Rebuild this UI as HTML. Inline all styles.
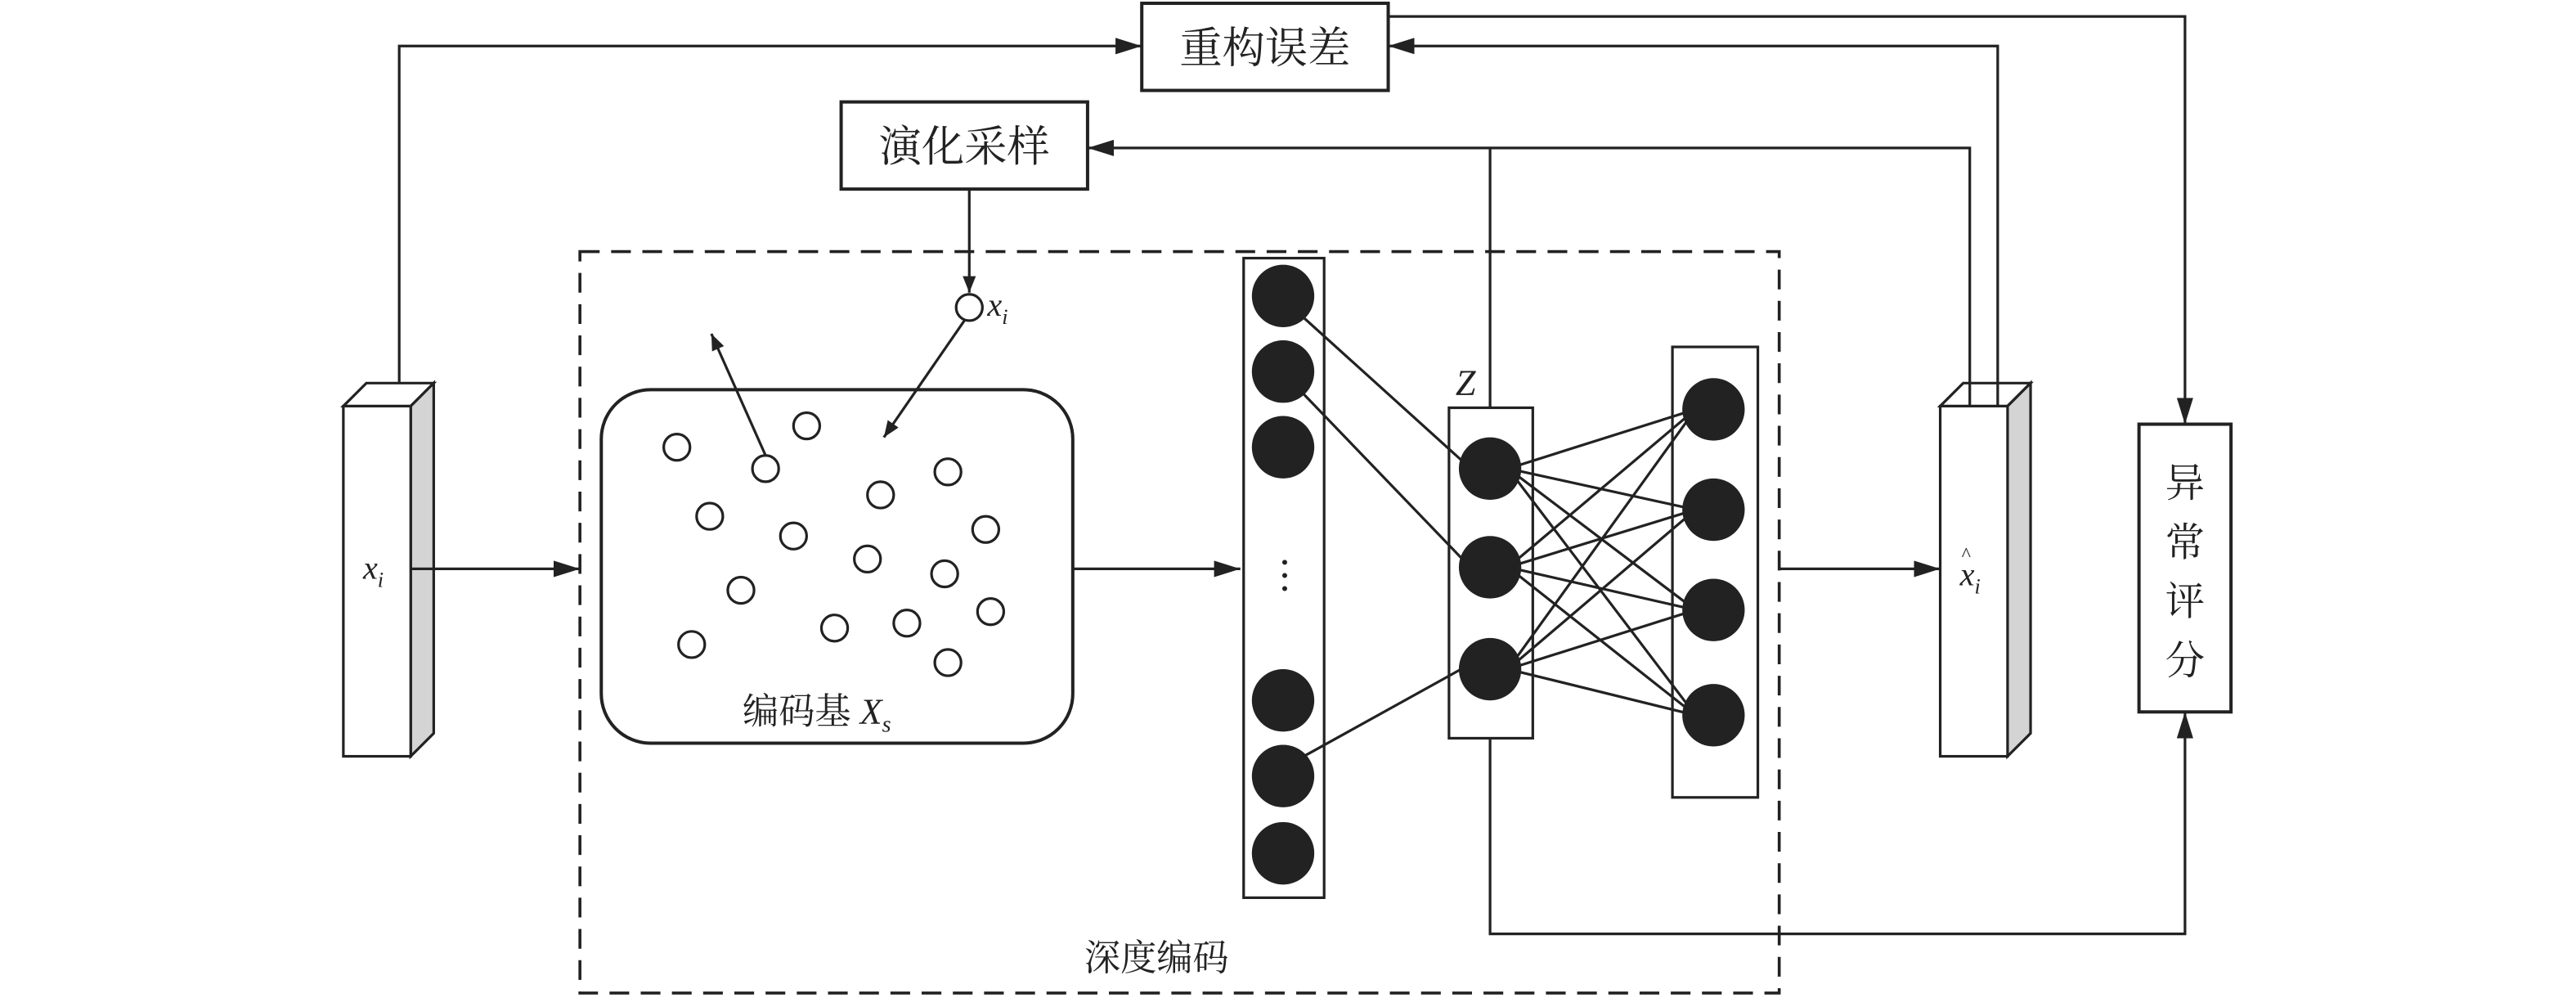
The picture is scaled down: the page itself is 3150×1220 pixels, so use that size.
<!DOCTYPE html>
<html><head><meta charset="utf-8"><style>html,body{margin:0;padding:0;background:#fff}svg{display:block}</style></head>
<body>
<svg width="3150" height="1220" viewBox="0 0 1568 607" preserveAspectRatio="none" xmlns="http://www.w3.org/2000/svg">
<defs><marker id="a" markerWidth="10" markerHeight="8" refX="10" refY="4" orient="auto" markerUnits="userSpaceOnUse"><path d="M0,0L10,4L0,8z" fill="#222"/></marker>
<marker id="b" markerWidth="16" markerHeight="10" refX="16" refY="5" orient="auto" markerUnits="userSpaceOnUse"><path d="M0,0L16,5L0,10z" fill="#222"/></marker></defs>
<g fill="none" stroke="#222" stroke-width="1.6">
<rect x="695" y="2" width="150" height="53" stroke-width="2"/>
<rect x="512" y="62" width="150" height="53" stroke-width="2"/>
<rect x="353" y="153" width="730" height="451" stroke-dasharray="12,7" stroke-width="1.8"/>
<!-- left cuboid -->
<path d="M209,247L223,233L264,233L250,247Z" fill="#fff"/>
<path d="M250,247L264,233L264,446L250,460Z" fill="#d4d4d4"/>
<rect x="209" y="247" width="41" height="213" fill="#fff"/>
<path d="M243,233V28H695" marker-end="url(#b)"/>
<path d="M250,346H353" marker-end="url(#b)"/>
<rect x="366" y="237" width="287" height="215" rx="30" stroke-width="2"/>
<g stroke-width="1.6" fill="#fff">
<circle cx="412" cy="272" r="8"/><circle cx="491" cy="259" r="8"/><circle cx="466" cy="285" r="8"/><circle cx="577" cy="287" r="8"/><circle cx="432" cy="314" r="8"/><circle cx="536" cy="301" r="8"/><circle cx="483" cy="326" r="8"/><circle cx="600" cy="322" r="8"/><circle cx="528" cy="340" r="8"/><circle cx="575" cy="349" r="8"/><circle cx="451" cy="359" r="8"/><circle cx="421" cy="392" r="8"/><circle cx="508" cy="382" r="8"/><circle cx="552" cy="379" r="8"/><circle cx="603" cy="372" r="8"/><circle cx="577" cy="403" r="8"/>
<circle cx="590" cy="187" r="8"/></g>
<path d="M466,277L433,203" marker-end="url(#a)"/>
<path d="M590,115V178" marker-end="url(#a)"/>
<path d="M587,195L538,266" marker-end="url(#a)"/>
<path d="M653,346H755" marker-end="url(#b)"/>
<rect x="757" y="157" width="49" height="389"/>
<rect x="882" y="248" width="51" height="201"/>
<rect x="1018" y="211" width="52" height="274"/>
<path d="M790,190L893,283M790,236L893,343M790,462L893,405"/>
<path d="M918,285L1032,249M918,285L1032,310M918,285L1032,371M918,285L1032,435M918,345L1032,249M918,345L1032,310M918,345L1032,371M918,345L1032,435M918,407L1032,249M918,407L1032,310M918,407L1032,371M918,407L1032,435"/>
<path d="M907,248V90"/>
<path d="M1199,233V90H662" marker-end="url(#b)"/>
<path d="M1216,233V28H845" marker-end="url(#b)"/>
<path d="M845,10H1330V258" marker-end="url(#b)"/>
<path d="M907,449V568H1330V433" marker-end="url(#b)"/>
<path d="M1083,346H1181" marker-end="url(#b)"/>
<!-- right cuboid -->
<path d="M1181,247L1195,233L1236,233L1222,247Z" fill="#fff"/>
<path d="M1222,247L1236,233L1236,446L1222,460Z" fill="#d4d4d4"/>
<rect x="1181" y="247" width="41" height="213" fill="#fff"/>
<path d="M1199,233V247M1216,233V247" />
<rect x="1302" y="258" width="56" height="175" stroke-width="2"/>
</g>
<g fill="#222">
<circle cx="781" cy="180" r="19"/><circle cx="781" cy="226" r="19"/><circle cx="781" cy="272" r="19"/><circle cx="781" cy="426" r="19"/><circle cx="781" cy="472" r="19"/><circle cx="781" cy="519" r="19"/>
<circle cx="782" cy="342" r="1.5"/><circle cx="782" cy="350" r="1.5"/><circle cx="782" cy="358" r="1.5"/>
<circle cx="907" cy="285" r="19"/><circle cx="907" cy="345" r="19"/><circle cx="907" cy="407" r="19"/>
<circle cx="1043" cy="249" r="19"/><circle cx="1043" cy="310" r="19"/><circle cx="1043" cy="371" r="19"/><circle cx="1043" cy="435" r="19"/>
</g>
<g font-family="'Liberation Serif','Noto Serif CJK SC',serif" fill="#222">
<text x="770" y="38" font-size="26" text-anchor="middle">重构误差</text>
<text x="587" y="98" font-size="26" text-anchor="middle">演化采样</text>
<text x="452" y="440" font-size="22">编码基 <tspan font-style="italic">X</tspan><tspan font-style="italic" font-size="14" dy="5">s</tspan></text>
<text x="660" y="590" font-size="22">深度编码</text>
<text x="221" y="352" font-size="20" font-style="italic">x<tspan font-size="13" dy="5">i</tspan></text>
<text x="601" y="192" font-size="20" font-style="italic">x<tspan font-size="13" dy="5">i</tspan></text>
<text x="886" y="240" font-size="22" font-style="italic">Z</text>
<text x="1193" y="356" font-size="20" font-style="italic">x<tspan font-size="13" dy="5">i</tspan></text>
<text x="1194" y="341" font-size="12">^</text>
<g font-size="24" text-anchor="middle"><text x="1330" y="302">异</text><text x="1330" y="338">常</text><text x="1330" y="374">评</text><text x="1330" y="410">分</text></g>
</g>
</svg>
</body></html>
